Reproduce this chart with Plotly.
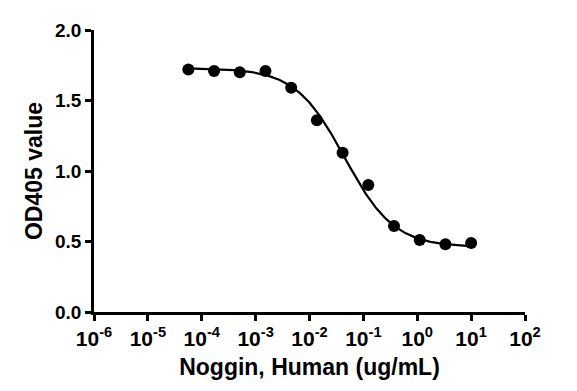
import numpy as np
import plotly.graph_objects as go

# Data (3-fold dilution series, ug/mL)
concentrations = [5.645e-5, 1.694e-4, 5.081e-4, 1.524e-3, 4.572e-3, 1.372e-2,
                  4.115e-2, 0.1235, 0.3704, 1.111, 3.333, 10.0]
od405 = [1.72, 1.71, 1.70, 1.71, 1.59, 1.36, 1.13, 0.90, 0.61, 0.51, 0.48, 0.49]

# 4-parameter logistic fit parameters (estimated from the figure)
fit_top = 1.73
fit_bottom = 0.46
fit_ec50 = 0.045
fit_hill = 0.95

x_tickvals = [1e-6, 1e-5, 1e-4, 1e-3, 1e-2, 1e-1, 1e0, 1e1, 1e2]
x_ticktext = ["10<sup>-6</sup>", "10<sup>-5</sup>", "10<sup>-4</sup>", "10<sup>-3</sup>",
              "10<sup>-2</sup>", "10<sup>-1</sup>", "10<sup>0</sup>", "10<sup>1</sup>",
              "10<sup>2</sup>"]
y_tickvals = [0.0, 0.5, 1.0, 1.5, 2.0]
y_ticktext = ["0.0", "0.5", "1.0", "1.5", "2.0"]

xfit = np.logspace(np.log10(min(concentrations)), np.log10(max(concentrations)), 300)
yfit = fit_bottom + (fit_top - fit_bottom) / (1 + (xfit / fit_ec50) ** fit_hill)

font = "Liberation Sans, Arial, sans-serif"

fig = go.Figure()
fig.add_trace(go.Scatter(x=xfit, y=yfit, mode="lines",
                         line=dict(color="black", width=2.2), showlegend=False))
fig.add_trace(go.Scatter(x=concentrations, y=od405, mode="markers",
                         marker=dict(color="black", size=12), showlegend=False))

fig.update_layout(
    width=569, height=383,
    margin=dict(l=86, r=52, t=16, b=79),
    paper_bgcolor="white", plot_bgcolor="white",
    font=dict(family=font, color="black"),
    xaxis=dict(type="log", range=[-6, 2], tickvals=x_tickvals, ticktext=x_ticktext,
               showgrid=False, zeroline=False, showline=True, linecolor="black",
               linewidth=2.5, ticks="outside", ticklen=6, tickwidth=2.5, tickcolor="black",
               tickfont=dict(size=21, family=font, weight="bold"),
               title=dict(text="<b>Noggin, Human (ug/mL)</b>", font=dict(size=23, family=font),
                          standoff=10)),
    yaxis=dict(range=[0, 2], tickvals=y_tickvals, ticktext=y_ticktext,
               showgrid=False, zeroline=False, showline=True, linecolor="black",
               linewidth=2.5, ticks="outside", ticklen=6, tickwidth=2.5, tickcolor="black",
               tickfont=dict(size=19, family=font, weight="bold"),
               title=dict(text="<b>OD405 value</b>", font=dict(size=23, family=font),
                          standoff=6)),
)

fig.write_html("out.html")
